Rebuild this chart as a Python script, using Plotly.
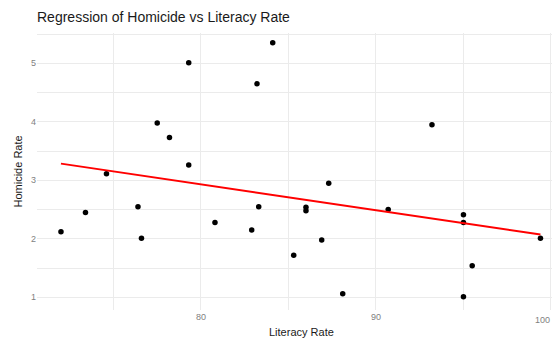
import numpy as np
import plotly.graph_objects as go

# Literacy rate (%) and homicide rate per country
literacy = [79.3, 84.1, 83.2, 77.5, 78.2, 79.3, 74.6, 72.0, 73.4, 76.4, 76.6, 80.8, 82.9, 83.3,
            93.2, 87.3, 86.0, 86.0, 90.7, 95.0, 95.0, 86.9, 85.3, 88.1, 95.0, 95.5, 99.4]
homicide = [5.01, 5.35, 4.65, 3.98, 3.73, 3.26, 3.11, 2.12, 2.45, 2.55, 2.01, 2.28, 2.15, 2.55,
            3.95, 2.95, 2.54, 2.48, 2.50, 2.41, 2.28, 1.98, 1.72, 1.06, 1.01, 1.54, 2.01]

x_ticks = [80, 90, 100]
y_ticks = [1, 2, 3, 4, 5]

# ordinary least squares fit
slope, intercept = np.polyfit(literacy, homicide, 1)
fit_x = np.linspace(min(literacy), max(literacy), 80)
fit_y = slope * fit_x + intercept

fig = go.Figure()
fig.add_trace(go.Scatter(
    x=literacy, y=homicide, mode="markers",
    marker=dict(color="black", size=5.5),
    showlegend=False, hoverinfo="skip"))
fig.add_trace(go.Scatter(
    x=fit_x, y=fit_y, mode="lines",
    line=dict(color="#ff0000", width=2),
    showlegend=False, hoverinfo="skip"))

grid = "#ebebeb"
tick_font = dict(size=9, color="#7f7f7f")
fig.update_layout(
    width=552, height=341,
    margin=dict(l=37, r=0, t=33, b=31),
    paper_bgcolor="white", plot_bgcolor="white",
    font=dict(family="Liberation Sans, Arial, sans-serif", color="#222222"),
    title=dict(text="Regression of Homicide vs Literacy Rate",
               font=dict(size=14, color="#1a1a1a"),
               xref="paper", x=0, xanchor="left",
               yref="container", y=1 - 17 / 341, yanchor="middle"),
    xaxis=dict(range=[70.63, 100.06], tickvals=x_ticks[:-1], ticktext=[str(v) for v in x_ticks[:-1]],
               showgrid=True, gridcolor=grid, gridwidth=1.1, zeroline=False, showline=False,
               ticks="", ticklen=0, tickfont=tick_font,
               minor=dict(tickvals=[75, 85, 95, 100], showgrid=True, gridcolor=grid, gridwidth=1.1),
               fixedrange=True),
    yaxis=dict(range=[0.783, 5.518], tickvals=y_ticks, ticktext=[str(v) for v in y_ticks],
               showgrid=True, gridcolor=grid, gridwidth=1.1, zeroline=False, showline=False,
               ticks="", ticklen=0, tickfont=tick_font,
               minor=dict(tickvals=[1.5, 2.5, 3.5, 4.5, 5.5], showgrid=True, gridcolor=grid, gridwidth=0.6),
               fixedrange=True),
)

# last x tick label, kept inside the right edge of the page
fig.add_annotation(text=str(x_ticks[-1]), xref="paper", yref="paper",
                   x=1, y=-(320 - 310) / 277,
                   xanchor="right", yanchor="middle", showarrow=False,
                   font=tick_font)

# axis titles
fig.add_annotation(text="Literacy Rate", xref="paper", yref="paper",
                   x=(301 - 37) / (552 - 37), y=-(332 - 310) / 277,
                   xanchor="center", yanchor="middle", showarrow=False,
                   font=dict(size=11, color="#1a1a1a"))
fig.add_annotation(text="Homicide Rate", xref="paper", yref="paper",
                   x=-(37 - 17) / (552 - 37), y=0.5, textangle=-90,
                   xanchor="center", yanchor="middle", showarrow=False,
                   font=dict(size=11, color="#1a1a1a"))

fig.write_html("out.html")
